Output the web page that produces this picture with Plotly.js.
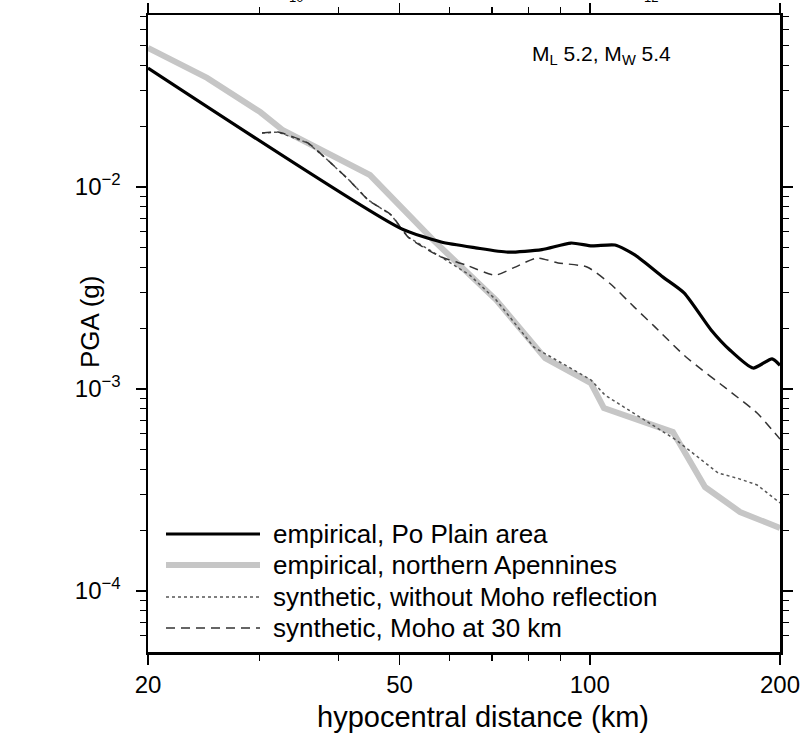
<!DOCTYPE html>
<html>
<head>
<meta charset="utf-8">
<script src="https://cdn.plot.ly/plotly-3.0.1.min.js"></script>
<style>html,body{margin:0;padding:0;background:#fff;}#chart{width:800px;height:734px;}</style>
</head>
<body>
<div id="chart"></div>
<script>
// ---- data (hypocentral distance km, PGA g) ----
const poX = [20, 50.1, 58.2, 66, 74.2, 84, 93.4, 100.8, 109.6, 118, 130.6, 141, 155.6, 166.6, 181.3, 194.3, 200];
const poY = [0.0388, 0.00626, 0.00534, 0.0050, 0.00476, 0.0049, 0.00528, 0.00511, 0.00516, 0.0046, 0.00358, 0.00299, 0.00196, 0.00156, 0.00127, 0.00141, 0.00131];

const apX = [20, 24.8, 30.1, 32.7, 44.9, 56.5, 71.1, 82.8, 85, 100.4, 105.3, 135.4, 144.2, 152.2, 172.9, 200];
const apY = [0.0488, 0.0347, 0.0235, 0.0191, 0.01146, 0.00547, 0.00276, 0.00156, 0.00142, 0.00107, 0.000805, 0.000612, 0.00043, 0.000327, 0.000246, 0.000205];

const noMohoX = [30.3, 32.1, 35.8, 38.0, 41.6, 44.6, 48.5, 51.6, 58.2, 64.6, 71.1, 81.6, 100.4, 105.7, 136.9, 159.6, 172, 184, 200];
const noMohoY = [0.0185, 0.0187, 0.01652, 0.0141, 0.01083, 0.00863, 0.00727, 0.00565, 0.0045, 0.00366, 0.00276, 0.00161, 0.00111, 0.000933, 0.00056, 0.000384, 0.00036, 0.000335, 0.000273];

const moho30X = [30.3, 32.1, 35.8, 38.0, 41.6, 44.6, 48.5, 51.6, 58.2, 63.7, 70.8, 76, 82.5, 89.1, 99.0, 108, 117.5, 126.8, 142, 168, 184, 200];
const moho30Y = [0.0185, 0.0187, 0.01652, 0.0141, 0.01083, 0.00863, 0.00727, 0.00565, 0.0045, 0.00411, 0.00366, 0.0040, 0.00445, 0.00421, 0.00402, 0.0033, 0.00255, 0.00203, 0.00144, 0.000955, 0.00076, 0.000565];

const seriesNames = ["empirical, Po Plain area", "empirical, northern Apennines", "synthetic, without Moho reflection", "synthetic, Moho at 30 km"];

const xTickVals = [20, 50, 100, 200];
const xTickText = ["20", "50", "100", "200"];
const xMinorVals = [30, 40, 60, 70, 80, 90];
const yTickVals = [1e-4, 1e-3, 1e-2];
const yTickText = ["10<sup>−4</sup>", "10<sup>−3</sup>", "10<sup>−2</sup>"];
const yMinorVals = [6e-5, 7e-5, 8e-5, 9e-5, 2e-4, 3e-4, 4e-4, 5e-4, 6e-4, 7e-4, 8e-4, 9e-4, 2e-3, 3e-3, 4e-3, 5e-3, 6e-3, 7e-3, 8e-3, 9e-3, 2e-2, 3e-2, 4e-2, 5e-2, 6e-2, 7e-2];

// ---- layout helpers (pixel -> paper) ----
const W = 800, H = 734, ML = 148, MR = 20, MT = 15, MB = 82;
const PW = W - ML - MR, PH = H - MT - MB;
const px = v => (v - ML) / PW;
const py = v => (H - MB - v) / PH;
const FONT = "Liberation Sans, Arial, Helvetica, sans-serif";

const styles = [
  {color: "#000000", width: 3.2, dash: "solid", shape: "spline"},
  {color: "#c6c6c6", width: 6, dash: "solid", shape: "linear"},
  {color: "#555555", width: 1.5, dash: "dot", shape: "linear"},
  {color: "#333333", width: 1.5, dash: "9px,6px", shape: "spline"}
];
const xs = [poX, apX, noMohoX, moho30X];
const ys = [poY, apY, noMohoY, moho30Y];
const order = [1, 2, 3, 0];

const traces = order.map(i => ({
  x: xs[i], y: ys[i], type: "scatter", mode: "lines", name: seriesNames[i],
  line: {color: styles[i].color, width: styles[i].width, dash: styles[i].dash, shape: styles[i].shape, smoothing: 0.6},
  showlegend: false, hoverinfo: "skip"
}));

// ---- legend drawn with shapes and annotations ----
const legRows = [534, 565, 597, 628];
const shapes = [];
const annotations = [];
for (let i = 0; i < 4; i++) {
  shapes.push({type: "line", xref: "paper", yref: "paper", x0: px(166), x1: px(260), y0: py(legRows[i]), y1: py(legRows[i]),
    line: {color: styles[i].color, width: styles[i].width, dash: styles[i].dash}});
  annotations.push({xref: "paper", yref: "paper", x: px(271), y: py(legRows[i]), xanchor: "left", yanchor: "middle",
    text: seriesNames[i], showarrow: false, font: {family: FONT, size: 26, color: "#000"}});
}
annotations.push({xref: "paper", yref: "paper", x: px(530), y: py(55), xanchor: "left", yanchor: "middle",
  text: "M<sub>L</sub> 5.2, M<sub>W</sub> 5.4", showarrow: false, font: {family: FONT, size: 21, color: "#000"}});
annotations.push({xref: "paper", yref: "paper", x: px(483), y: py(717), xanchor: "center", yanchor: "middle",
  text: "hypocentral distance (km)", showarrow: false, font: {family: FONT, size: 29, color: "#000"}});
annotations.push({xref: "paper", yref: "paper", x: px(90), y: py(322), xanchor: "center", yanchor: "middle", textangle: -90,
  text: "PGA (g)", showarrow: false, font: {family: FONT, size: 26, color: "#000"}});
// cut-off labels of the panel above
annotations.push({xref: "paper", yref: "paper", x: px(296), y: py(-2), xanchor: "center", yanchor: "middle",
  text: "10", showarrow: false, font: {family: FONT, size: 13, color: "#000"}});
annotations.push({xref: "paper", yref: "paper", x: px(651), y: py(-2), xanchor: "center", yanchor: "middle",
  text: "12", showarrow: false, font: {family: FONT, size: 13, color: "#000"}});

const layout = {
  width: W, height: H,
  margin: {l: ML, r: MR, t: MT, b: MB, pad: 0},
  paper_bgcolor: "#fff", plot_bgcolor: "#fff",
  showlegend: false,
  font: {family: FONT, color: "#000"},
  xaxis: {
    type: "log", range: [Math.log10(20), Math.log10(200)],
    tickmode: "array", tickvals: xTickVals, ticktext: xTickText,
    ticks: "outside", ticklen: 10, tickwidth: 1.6, tickcolor: "#000",
    showline: true, linecolor: "#000", linewidth: 2.5, mirror: "allticks",
    showgrid: false, zeroline: false, ticklabeloverflow: "allow",
    tickfont: {family: FONT, size: 24, color: "#000"},
    minor: {tickmode: "array", tickvals: xMinorVals, ticks: "outside", ticklen: 6, tickwidth: 1.3, tickcolor: "#000", showgrid: false}
  },
  yaxis: {
    type: "log", range: [-4.302, -1.1485],
    tickmode: "array", tickvals: yTickVals, ticktext: yTickText,
    ticks: "outside", ticklen: 10, tickwidth: 1.6, tickcolor: "#000",
    showline: true, linecolor: "#000", linewidth: 2.5, mirror: "allticks",
    showgrid: false, zeroline: false, ticklabelstandoff: 10, ticklabeloverflow: "allow",
    tickfont: {family: FONT, size: 24, color: "#000"},
    minor: {tickmode: "array", tickvals: yMinorVals, ticks: "outside", ticklen: 6, tickwidth: 1.3, tickcolor: "#000", showgrid: false}
  },
  shapes: shapes,
  annotations: annotations
};

Plotly.newPlot("chart", traces, layout, {staticPlot: true, displayModeBar: false});
</script>
</body>
</html>
